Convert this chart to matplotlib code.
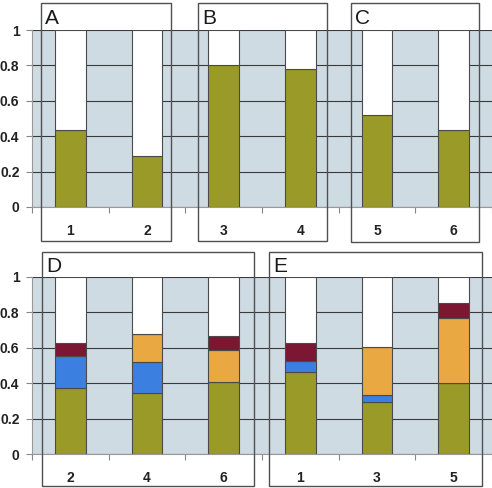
import matplotlib.pyplot as plt
from matplotlib.patches import Rectangle
import numpy as np

# top panel: fraction per sample (single component)
top_labels = ["1", "2", "3", "4", "5", "6"]
top_green = [0.435, 0.29, 0.80, 0.78, 0.518, 0.435]

# bottom panel: stacked components
bot_labels = ["2", "4", "6", "1", "3", "5"]
bot_green = [0.371, 0.343, 0.409, 0.465, 0.292, 0.399]
bot_blue = [0.184, 0.178, 0.0, 0.062, 0.041, 0.0]
bot_orange = [0.0, 0.155, 0.177, 0.0, 0.272, 0.371]
bot_maroon = [0.070, 0.0, 0.081, 0.102, 0.0, 0.085]

group_letters = ["A", "B", "C", "D", "E"]

BG = "#cfdbe3"
GREEN = "#9a9a28"
BLUE = "#3b80e0"
ORANGE = "#eaa843"
MAROON = "#7b1732"
EDGE = "#4a4a4a"

W, H = 492, 488
fig = plt.figure(figsize=(W / 100, H / 100), dpi=100)
plt.rcParams["font.family"] = ["Liberation Sans", "DejaVu Sans"]


def px_axes(x0, y_top, x1, y_bot):
    return fig.add_axes([x0 / W, 1 - y_bot / H, (x1 - x0) / W, (y_bot - y_top) / H])


def style(ax, labels):
    ax.set_facecolor(BG)
    ax.set_xlim(0, 6)
    ax.set_ylim(0, 1)
    ax.set_yticks([0, 0.2, 0.4, 0.6, 0.8, 1])
    ax.set_yticklabels(["0", "0.2", "0.4", "0.6", "0.8", "1"], fontsize=10,
                       fontweight="bold", color="#222222")
    ax.set_xticks(np.arange(6) + 0.5)
    ax.set_xticklabels(labels, fontsize=10, fontweight="bold", color="#222222")
    ax.set_xticks(np.arange(7), minor=True)
    ax.tick_params(axis="x", which="major", length=0, pad=12.5)
    ax.tick_params(axis="x", which="minor", length=4, color="#888888", width=0.8)
    ax.tick_params(axis="y", length=4, color="#888888", width=0.8, pad=5)
    ax.grid(axis="y", color="#3a3a3a", lw=0.8)
    ax.set_axisbelow(True)
    for s in ["top", "right"]:
        ax.spines[s].set_visible(False)
    for s in ["left", "bottom"]:
        ax.spines[s].set_color("#999999")
        ax.spines[s].set_linewidth(0.8)


x = np.arange(6) + 0.5
bw = 0.4

ax1 = px_axes(32, 30, 492, 207)
style(ax1, top_labels)
g = np.array(top_green)
ax1.bar(x, g, bw, color=GREEN, edgecolor=EDGE, lw=0.8, zorder=3)
ax1.bar(x, 1 - g, bw, bottom=g, color="white", edgecolor=EDGE, lw=0.8, zorder=3)

ax2 = px_axes(32, 277, 492, 454)
style(ax2, bot_labels)
bottom = np.zeros(6)
for vals, c in [(bot_green, GREEN), (bot_blue, BLUE), (bot_orange, ORANGE), (bot_maroon, MAROON)]:
    v = np.array(vals)
    ax2.bar(x, v, bw, bottom=bottom, color=c, edgecolor=EDGE, lw=0.8, zorder=3)
    bottom += v
ax2.bar(x, 1 - bottom, bw, bottom=bottom, color="white", edgecolor=EDGE, lw=0.8, zorder=3)

# group boxes (pixel coords: x0, y0, x1, y1)
boxes = [(41, 3, 171, 241), (198, 3, 327, 241), (351, 3, 479, 242),
         (42, 252, 254, 486), (269, 252, 482, 486)]
for letter, (x0, y0, x1, y1) in zip(group_letters, boxes):
    fig.add_artist(Rectangle((x0 / W, 1 - y1 / H), (x1 - x0) / W, (y1 - y0) / H,
                             transform=fig.transFigure, fill=False,
                             edgecolor="#505050", lw=1.0, zorder=10))
    fig.text((x0 + 4) / W, 1 - (y0 + 15) / H, letter, fontsize=15,
             va="center", ha="left", color="#1a1a1a")

fig.savefig("out.png", dpi=100)
